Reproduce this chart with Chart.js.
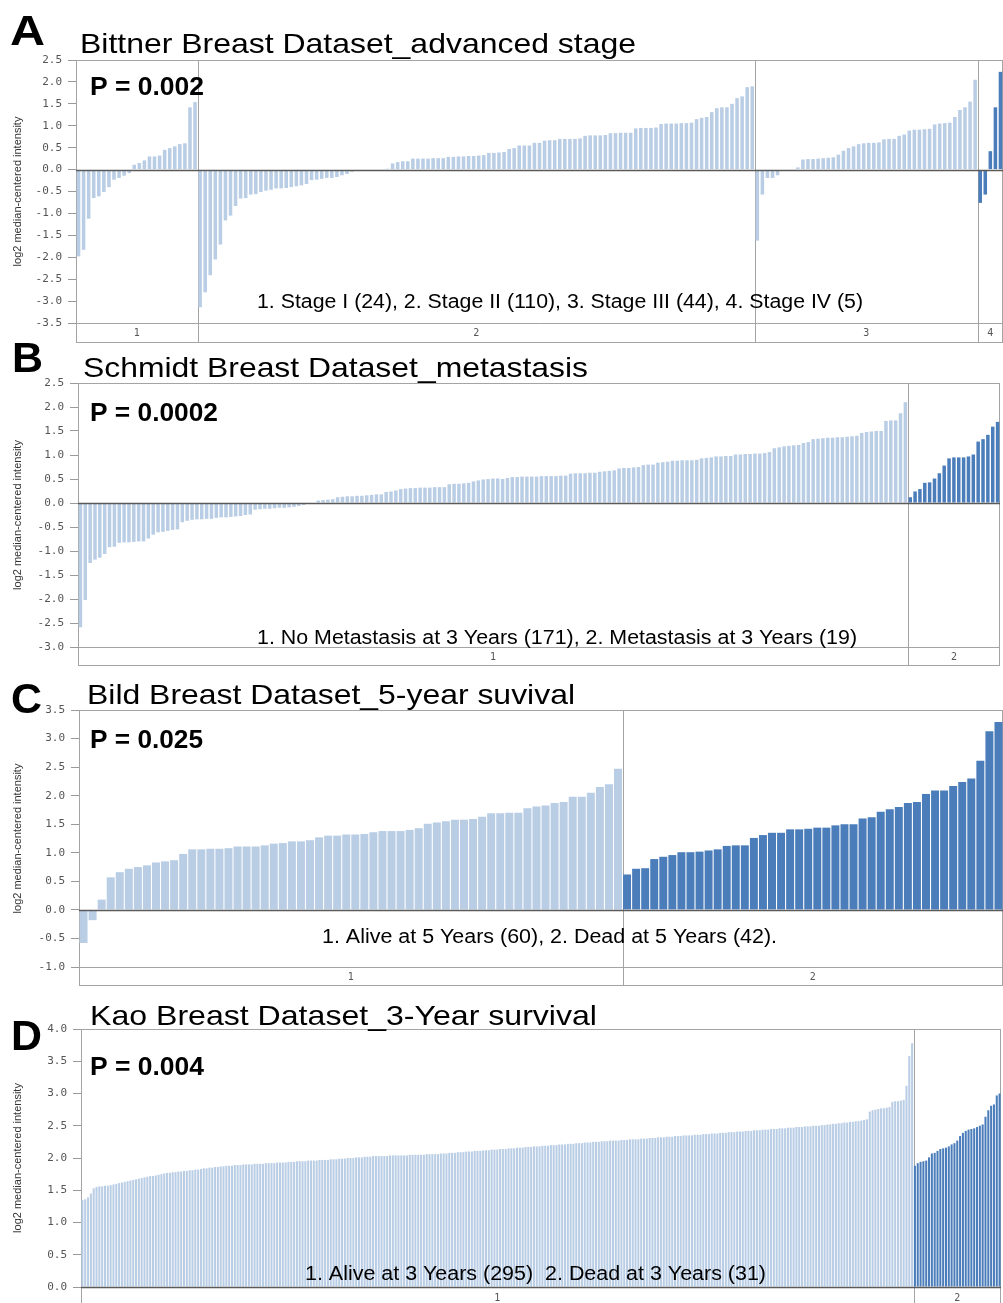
<!DOCTYPE html>
<html>
<head>
<meta charset="utf-8">
<script src="https://cdn.jsdelivr.net/npm/chart.js@4.4.1/dist/chart.umd.min.js"></script>
<style>
  html, body { margin: 0; padding: 0; background: #fff; overflow: hidden; }
  #wrap { position: relative; width: 1003px; height: 1303px; overflow: hidden; background: #fff; }
  #wrap canvas { position: absolute; left: 0; }
</style>
</head>
<body>
<div id="wrap">
  <canvas id="chartA" width="1003" height="350" style="top:0px"></canvas>
  <canvas id="chartB" width="1003" height="345" style="top:330px"></canvas>
  <canvas id="chartC" width="1003" height="330" style="top:665px"></canvas>
  <canvas id="chartD" width="1003" height="340" style="top:985px"></canvas>
</div>
<script>
const LIGHT = "#b9cde5";
const DARK = "#4a7dba";

// A - Bittner, advanced stage
const bittnerStage1 = [-1.98,-1.83,-1.12,-0.65,-0.61,-0.51,-0.40,-0.23,-0.19,-0.14,-0.08,0.11,0.15,0.21,0.30,0.30,0.32,0.45,0.49,0.53,0.58,0.60,1.42,1.54];
const bittnerStage2 = [-3.14,-2.80,-2.41,-2.05,-1.71,-1.16,-1.05,-0.83,-0.66,-0.65,-0.57,-0.56,-0.51,-0.48,-0.46,-0.43,-0.43,-0.42,-0.40,-0.38,-0.36,-0.33,-0.24,-0.23,-0.21,-0.19,-0.19,-0.17,-0.13,-0.10,-0.05,-0.03,
  -0.01,0.00,0.00,0.01,0.01,0.02,0.14,0.17,0.19,0.19,0.25,0.25,0.25,0.25,0.26,0.26,0.26,0.29,0.29,0.30,0.30,0.31,0.31,0.32,0.33,0.38,0.38,0.39,
  0.40,0.47,0.49,0.55,0.55,0.55,0.61,0.61,0.66,0.67,0.67,0.70,0.70,0.70,0.70,0.71,0.77,0.78,0.78,0.78,0.79,0.83,0.83,0.84,0.84,0.84,
  0.94,0.95,0.95,0.95,0.96,1.04,1.05,1.05,1.05,1.06,1.06,1.07,1.15,1.18,1.20,1.31,1.40,1.42,1.42,1.50,1.63,1.67,1.88,1.90];
const bittnerStage3 = [-1.62,-0.57,-0.19,-0.19,-0.13,-0.02,0.00,0.01,0.05,0.23,0.24,0.24,0.25,0.26,0.27,0.28,0.34,0.43,0.49,0.53,0.58,0.60,0.61,0.61,0.62,0.69,0.70,0.70,0.77,0.80,0.89,0.91,0.91,0.92,0.93,1.03,1.05,1.06,1.07,1.20,1.36,1.42,1.55,2.05];
const bittnerStage4 = [-0.76,-0.57,0.42,1.42,2.23];
const bittnerGroups = ["1", "2", "3", "4"];

// B - Schmidt, metastasis
const schmidtNoMet = [-2.59,-2.02,-1.25,-1.18,-1.14,-1.06,-0.92,-0.91,-0.83,-0.82,-0.82,-0.81,-0.80,-0.80,
  -0.74,-0.66,-0.61,-0.60,-0.58,-0.56,-0.55,-0.40,-0.37,-0.35,-0.34,-0.34,-0.33,-0.33,
  -0.31,-0.30,-0.30,-0.29,-0.28,-0.27,-0.25,-0.24,-0.14,-0.13,-0.12,-0.12,-0.11,-0.10,-0.10,-0.09,-0.08,
  -0.06,-0.04,-0.02,-0.01,0.05,0.06,0.07,0.08,0.12,0.13,0.14,0.14,0.15,0.15,0.16,0.17,0.18,0.18,0.23,0.24,0.26,
  0.29,0.30,0.31,0.31,0.32,0.32,0.32,0.33,0.33,0.33,0.39,0.40,0.40,0.41,0.42,0.45,0.47,0.49,0.50,0.51,0.51,
  0.50,0.52,0.54,0.54,0.55,0.55,0.55,0.55,0.56,0.56,0.56,0.56,0.57,0.57,0.61,0.62,0.62,0.62,0.63,0.63,
  0.65,0.66,0.67,0.68,0.72,0.73,0.73,0.74,0.75,0.79,0.80,0.80,0.84,0.85,0.86,0.88,0.88,0.89,0.89,0.89,0.90,
  0.93,0.94,0.95,0.97,0.97,0.98,0.98,1.01,1.01,1.02,1.02,1.03,1.03,1.04,1.06,1.14,1.16,1.18,1.19,1.20,1.21,
  1.25,1.27,1.33,1.34,1.35,1.36,1.36,1.37,1.37,1.38,1.39,1.40,1.46,1.48,1.49,1.50,1.50,1.71,1.72,1.72,1.87,2.10];
const schmidtMet = [0.12,0.24,0.29,0.42,0.43,0.51,0.62,0.78,0.93,0.95,0.95,0.95,0.97,1.01,1.28,1.33,1.42,1.59,1.69];
const schmidtGroups = ["1", "2"];

// C - Bild, 5-year survival
const bildAlive = [-0.58,-0.18,0.18,0.57,0.66,0.72,0.75,0.78,0.83,0.85,0.87,0.98,1.06,1.06,1.07,1.07,1.08,1.11,1.11,1.11,
  1.13,1.16,1.17,1.20,1.20,1.22,1.27,1.30,1.30,1.32,1.32,1.33,1.36,1.38,1.38,1.38,1.40,1.43,1.51,1.53,
  1.55,1.58,1.58,1.59,1.63,1.69,1.69,1.70,1.70,1.78,1.81,1.83,1.87,1.89,1.98,1.98,2.05,2.15,2.20,2.47];
const bildDead = [0.62,0.72,0.73,0.89,0.93,0.96,1.01,1.01,1.02,1.04,1.06,1.12,1.13,1.13,1.26,1.31,1.35,1.35,1.41,1.41,
  1.42,1.44,1.44,1.48,1.50,1.50,1.60,1.62,1.72,1.76,1.80,1.87,1.89,2.03,2.09,2.09,2.17,2.24,2.30,2.61,3.13,3.29];
const bildGroups = ["1", "2"];

// D - Kao, 3-year survival
const kaoAlive = [1.35,1.36,1.39,1.45,1.53,1.55,1.56,1.56,1.57,1.57,1.58,1.59,1.60,1.61,1.62,1.63,1.64,1.65,1.66,1.67,1.68,
  1.69,1.70,1.71,1.72,1.72,1.73,1.74,1.75,1.76,1.77,1.77,1.78,1.78,1.79,1.79,1.80,1.80,1.81,1.81,1.82,1.82,
  1.83,1.84,1.84,1.85,1.85,1.86,1.86,1.87,1.87,1.88,1.88,1.88,1.89,1.89,1.89,1.90,1.90,1.90,1.90,
  1.91,1.91,1.91,1.91,1.92,1.92,1.92,1.92,1.93,1.93,1.93,1.93,
  1.94,1.94,1.94,1.95,1.95,1.95,1.95,1.96,1.96,1.96,1.96,1.97,1.97,1.97,1.97,1.98,1.98,
  1.98,1.99,1.99,1.99,2.00,2.00,2.00,2.01,2.01,2.01,2.02,2.02,
  2.02,2.03,2.03,2.03,2.03,2.03,2.03,2.04,2.04,2.04,2.04,2.04,2.04,2.04,2.05,2.05,2.05,2.05,2.05,2.05,2.06,2.06,2.06,2.06,
  2.06,2.07,2.07,2.07,2.08,2.08,2.08,2.09,2.09,2.09,2.10,2.10,2.10,2.11,2.11,2.11,2.12,2.12,2.12,2.13,2.13,2.13,2.14,
  2.14,2.14,2.15,2.15,2.15,2.16,2.16,2.16,2.17,2.17,2.17,2.18,2.18,2.18,2.19,2.19,2.19,2.20,2.20,2.20,2.21,2.21,2.21,2.22,
  2.22,2.22,2.23,2.23,2.23,2.24,2.24,2.24,2.25,2.25,2.25,2.26,2.26,2.26,2.27,2.27,2.27,2.27,2.28,2.28,2.28,2.29,2.29,2.29,
  2.29,2.30,2.30,2.30,2.31,2.31,2.31,2.32,2.32,2.32,2.33,2.33,2.33,2.34,2.34,2.34,2.35,2.35,2.35,2.35,2.36,2.36,2.36,
  2.37,2.37,2.37,2.38,2.38,2.38,2.39,2.39,2.39,2.40,2.40,2.40,2.41,2.41,2.41,2.42,2.42,2.42,2.43,2.43,2.43,2.44,2.44,2.44,
  2.45,2.45,2.45,2.46,2.46,2.46,2.47,2.47,2.47,2.48,2.48,2.48,2.49,2.49,2.49,2.50,2.50,2.50,
  2.51,2.51,2.52,2.52,2.53,2.53,2.54,2.54,2.55,2.55,2.56,2.56,2.57,2.57,2.58,2.59,2.60,
  2.72,2.74,2.75,2.76,2.77,2.77,2.78,2.79,2.87,2.88,2.88,2.89,2.90,3.12,3.58,3.78];
const kaoDead = [1.88,1.92,1.94,1.95,1.96,2.01,2.07,2.08,2.11,2.14,2.15,2.16,2.18,2.21,2.23,2.27,2.34,2.39,2.42,2.44,
  2.45,2.46,2.48,2.50,2.52,2.64,2.74,2.81,2.83,2.97,3.00];
const kaoGroups = ["1", "2"];

const yTitle = "log2 median-centered intensity";

// page layout of each panel (page coordinates)
const panels = [
  {
    id: "chartA", top: 0, height: 350, left: 76, right: 1003, areaTop: 60, areaBottom: 323, bandBottom: 342,
    yMin: -3.5, yMax: 2.5, barPct: 0.7,
    groups: [bittnerStage1, bittnerStage2, bittnerStage3, bittnerStage4], groupLabels: bittnerGroups,
    colors: [LIGHT, LIGHT, LIGHT, DARK],
    texts: [
      { text: "A", x: 10, y: 45, size: 42, bold: true, width: 35 },
      { text: "Bittner Breast Dataset_advanced stage", x: 80, y: 53, size: 28, width: 556 },
      { text: "P = 0.002", x: 90, y: 95, size: 25, bold: true, width: 114 },
      { text: "1. Stage I (24), 2. Stage II (110), 3. Stage III (44), 4. Stage IV (5)", x: 257, y: 308, size: 20, width: 606 }
    ]
  },
  {
    id: "chartB", top: 330, height: 345, left: 78, right: 1000, areaTop: 383, areaBottom: 647, bandBottom: 665,
    yMin: -3.0, yMax: 2.5, barPct: 0.72,
    groups: [schmidtNoMet, schmidtMet], groupLabels: schmidtGroups,
    colors: [LIGHT, DARK],
    texts: [
      { text: "B", x: 12, y: 372, size: 42, bold: true, width: 31 },
      { text: "Schmidt Breast Dataset_metastasis", x: 83, y: 377, size: 28, width: 505 },
      { text: "P = 0.0002", x: 90, y: 421, size: 25, bold: true, width: 128 },
      { text: "1. No Metastasis at 3 Years (171), 2. Metastasis at 3 Years (19)", x: 257, y: 644, size: 20, width: 600 }
    ]
  },
  {
    id: "chartC", top: 665, height: 330, left: 79, right: 1003, areaTop: 710, areaBottom: 967, bandBottom: 985,
    yMin: -1.0, yMax: 3.5, barPct: 0.88,
    groups: [bildAlive, bildDead], groupLabels: bildGroups,
    colors: [LIGHT, DARK],
    texts: [
      { text: "C", x: 11, y: 713, size: 42, bold: true, width: 31 },
      { text: "Bild Breast Dataset_5-year suvival", x: 87, y: 704, size: 28, width: 488 },
      { text: "P = 0.025", x: 90, y: 748, size: 25, bold: true, width: 113 },
      { text: "1. Alive at 5 Years (60), 2. Dead at 5 Years (42).", x: 322, y: 943, size: 20, width: 455 }
    ]
  },
  {
    id: "chartD", top: 985, height: 340, left: 81, right: 1001, areaTop: 1029, areaBottom: 1287, bandBottom: 1307,
    yMin: 0.0, yMax: 4.0, barPct: 0.72,
    groups: [kaoAlive, kaoDead], groupLabels: kaoGroups,
    colors: [LIGHT, DARK],
    texts: [
      { text: "D", x: 11, y: 1050, size: 42, bold: true, width: 31 },
      { text: "Kao Breast Dataset_3-Year survival", x: 90, y: 1025, size: 28, width: 507 },
      { text: "P = 0.004", x: 90, y: 1075, size: 25, bold: true, width: 114 },
      { text: "1. Alive at 3 Years (295)  2. Dead at 3 Years (31)", x: 305, y: 1280, size: 20, width: 461 }
    ]
  }
];

function drawText(ctx, t, top) {
  ctx.save();
  ctx.font = (t.bold ? "bold " : "") + t.size + 'px "Liberation Sans", Arial, sans-serif';
  ctx.fillStyle = "#000";
  ctx.textAlign = "left";
  ctx.textBaseline = "alphabetic";
  const w = ctx.measureText(t.text).width;
  ctx.translate(t.x, t.y - top);
  ctx.scale(t.width / w, 1);
  ctx.fillText(t.text, 0, 0);
  ctx.restore();
}

function decorPlugin(panel) {
  return {
    id: "decor",
    beforeDatasetsDraw(chart) {
      const { ctx, chartArea } = chart;
      const xs = chart.scales.x;
      const bandBottom = panel.bandBottom - panel.top;
      ctx.save();
      ctx.strokeStyle = "#a4a4a4";
      ctx.lineWidth = 1;
      ctx.strokeRect(chartArea.left + 0.5, chartArea.top + 0.5, chartArea.right - chartArea.left - 1, bandBottom - chartArea.top);
      ctx.beginPath();
      ctx.moveTo(chartArea.left, chartArea.bottom + 0.5);
      ctx.lineTo(chartArea.right, chartArea.bottom + 0.5);
      ctx.stroke();
      // group separators and labels
      let start = 0;
      let x0 = chartArea.left;
      ctx.font = '10px "DejaVu Sans Mono", monospace';
      ctx.fillStyle = "#555";
      ctx.textAlign = "center";
      ctx.textBaseline = "middle";
      panel.groups.forEach((g, gi) => {
        const end = start + g.length;
        let x1 = chartArea.right;
        if (gi < panel.groups.length - 1) {
          x1 = (xs.getPixelForValue(end - 1) + xs.getPixelForValue(end)) / 2;
          ctx.beginPath();
          ctx.moveTo(Math.round(x1) + 0.5, chartArea.top);
          ctx.lineTo(Math.round(x1) + 0.5, bandBottom);
          ctx.stroke();
        }
        ctx.fillText(panel.groupLabels[gi], (x0 + x1) / 2, (chartArea.bottom + bandBottom) / 2 + 1);
        x0 = x1;
        start = end;
      });
      ctx.restore();
    },
    afterDatasetsDraw(chart) {
      const { ctx, chartArea } = chart;
      const y0 = Math.round(chart.scales.y.getPixelForValue(0)) + 0.5;
      ctx.save();
      ctx.strokeStyle = "#5a5a5a";
      ctx.lineWidth = 1.3;
      ctx.beginPath();
      ctx.moveTo(chartArea.left, y0);
      ctx.lineTo(chartArea.right, y0);
      ctx.stroke();
      ctx.restore();
    },
    afterDraw(chart) {
      panel.texts.forEach(t => drawText(chart.ctx, t, panel.top));
    }
  };
}

function buildChart(panel) {
  const values = [];
  const colors = [];
  panel.groups.forEach((g, gi) => {
    g.forEach(v => { values.push(v); colors.push(panel.colors[gi]); });
  });
  const labels = values.map((v, i) => String(i + 1));
  const canvas = document.getElementById(panel.id);

  new Chart(canvas, {
    type: "bar",
    data: {
      labels: labels,
      datasets: [{
        data: values,
        backgroundColor: colors,
        borderWidth: 0,
        barPercentage: panel.barPct,
        categoryPercentage: 1.0
      }]
    },
    options: {
      responsive: false,
      animation: false,
      events: [],
      layout: {
        padding: {
          left: 0,
          top: panel.areaTop - panel.top,
          right: 1003 - panel.right,
          bottom: panel.height - (panel.areaBottom - panel.top)
        }
      },
      plugins: { legend: { display: false }, tooltip: { enabled: false }, title: { display: false } },
      scales: {
        x: { type: "category", display: false, offset: true },
        y: {
          min: panel.yMin,
          max: panel.yMax,
          afterFit(scale) { scale.width = panel.left; },
          ticks: {
            stepSize: 0.5,
            autoSkip: false,
            padding: 6,
            color: "#555",
            font: { family: '"DejaVu Sans Mono", monospace', size: 11 },
            callback: v => Number(v).toFixed(1)
          },
          grid: { drawOnChartArea: false, tickLength: 8, tickColor: "#9a9a9a" },
          border: { display: true, color: "#a4a4a4" },
          title: {
            display: true,
            text: yTitle,
            color: "#333",
            font: { family: '"Liberation Sans", Arial, sans-serif', size: 11 },
            padding: { top: 11, bottom: 0 }
          }
        }
      }
    },
    plugins: [decorPlugin(panel)]
  });
}

panels.forEach(buildChart);
</script>
</body>
</html>
